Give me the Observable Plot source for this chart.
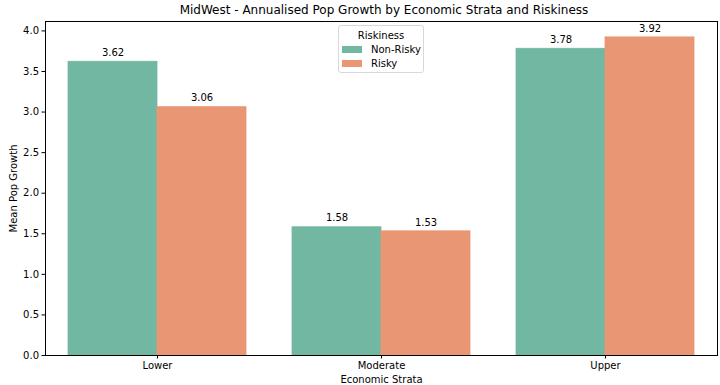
<!DOCTYPE html>
<html>
<head>
<meta charset="utf-8">
<script src="https://cdn.jsdelivr.net/npm/d3@7"></script>
<script src="https://cdn.jsdelivr.net/npm/@observablehq/plot@0.6"></script>
<style>
  body { margin: 0; background: #fff; font-family: "DejaVu Sans", sans-serif; }
  #wrap { position: relative; width: 720px; height: 385px; }
  #title { height: 20px; line-height: 20px; font-size: 12px; text-align: center; padding-left: 48px; box-sizing: border-box; width: 720px; color: #000; }
  #legend { position: absolute; left: 338px; top: 25px; width: 86px; height: 48px; box-sizing: border-box; border: 1px solid #d8d8d8; border-radius: 3px; background: rgba(255,255,255,0.85); font-size: 10px; color: #000; }
  #legend .lt { text-align: center; margin-top: 3px; height: 13px; line-height: 13px; }
  #legend .row { display: flex; align-items: center; height: 14px; padding-left: 3px; }
  #legend .sw { width: 20px; height: 7px; margin-right: 9px; }
</style>
</head>
<body>
<div id="wrap">
  <div id="title">MidWest - Annualised Pop Growth by Economic Strata and Riskiness</div>
  <div id="chart"></div>
  <div id="legend"></div>
</div>
<script>
const strata = ["Lower", "Moderate", "Upper"];
const riskiness = ["Non-Risky", "Risky"];
const nonRisky = [3.62, 1.58, 3.78];
const risky = [3.06, 1.53, 3.92];
const yTicks = [0, 0.5, 1, 1.5, 2, 2.5, 3, 3.5, 4];
const colors = ["#72b7a1", "#e99675"];

const data = [];
strata.forEach((s, i) => {
  data.push({strata: s, risk: riskiness[0], value: nonRisky[i]});
  data.push({strata: s, risk: riskiness[1], value: risky[i]});
});
const yMax = d3.max(data, d => d.value) * 1.05;

const plot = Plot.plot({
  width: 720,
  height: 365,
  marginTop: 1,
  marginBottom: 30,
  marginLeft: 44,
  marginRight: 3,
  style: {fontFamily: "DejaVu Sans, sans-serif", fontSize: "10px", color: "#000", background: "#fff"},
  fx: {domain: strata, paddingInner: 0, paddingOuter: 0},
  x: {domain: riskiness, paddingInner: 0, paddingOuter: 0.25, axis: null},
  y: {domain: [0, yMax]},
  color: {domain: riskiness, range: colors},
  marks: [
    Plot.barY(data, {fx: "strata", x: "risk", y: "value", fill: "risk", stroke: "risk", strokeWidth: 0.8, inset: 0}),
    Plot.text(data, {fx: "strata", x: "risk", y: "value", text: d => d.value.toFixed(2), dy: -9, fontSize: 10, fill: "#000"}),
    Plot.axisY({ticks: yTicks, tickFormat: d3.format(".1f"), tickSize: 3.5, tickPadding: 3, label: "Mean Pop Growth", labelArrow: "none", labelAnchor: "center", labelOffset: 36, fontSize: 10}),
    Plot.axisFx({anchor: "bottom", tickSize: 3.5, tickPadding: 3, label: "Economic Strata", labelArrow: "none", labelAnchor: "center", labelOffset: 27, fontSize: 10}),
    Plot.frame({facet: "super", stroke: "#000", strokeWidth: 1})
  ]
});
document.getElementById("chart").appendChild(plot);

const legend = document.getElementById("legend");
const lt = document.createElement("div");
lt.className = "lt"; lt.textContent = "Riskiness";
legend.appendChild(lt);
const colorScale = plot.scale("color");
riskiness.forEach(r => {
  const row = document.createElement("div");
  row.className = "row";
  const sw = document.createElement("div");
  sw.className = "sw";
  sw.style.background = colorScale.apply(r);
  const label = document.createElement("span");
  label.textContent = r;
  row.appendChild(sw); row.appendChild(label);
  legend.appendChild(row);
});
</script>
</body>
</html>
